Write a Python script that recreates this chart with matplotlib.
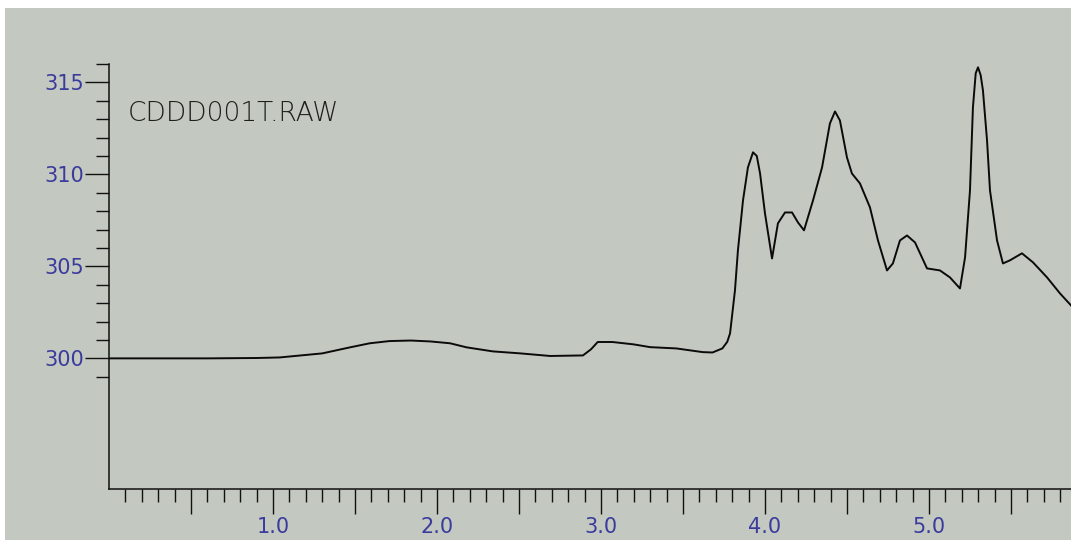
import numpy as np
import matplotlib
matplotlib.use("Agg")
import matplotlib.pyplot as plt
from matplotlib.ticker import FixedLocator, FuncFormatter
from matplotlib.patches import Rectangle

# trace (retention time, signal)
time = [0.00, 0.30, 0.60, 0.90, 1.04, 1.30, 1.47, 1.59, 1.71, 1.84, 1.96, 2.08,
        2.18, 2.34, 2.51, 2.69, 2.89, 2.94, 2.98, 3.07, 3.20, 3.30, 3.46, 3.62,
        3.68, 3.74, 3.77, 3.787, 3.817, 3.835, 3.866, 3.896, 3.927, 3.950, 3.970,
        4.000, 4.043, 4.079, 4.122, 4.165, 4.201, 4.238, 4.293, 4.348, 4.396,
        4.427, 4.457, 4.500, 4.530, 4.579, 4.640, 4.689, 4.744, 4.780, 4.823,
        4.866, 4.915, 4.988, 5.067, 5.128, 5.189, 5.220, 5.250, 5.268, 5.285,
        5.299, 5.315, 5.329, 5.354, 5.372, 5.415, 5.451, 5.494, 5.567, 5.634,
        5.720, 5.799, 5.866]
signal = [300.00, 300.00, 300.00, 300.02, 300.05, 300.27, 300.60, 300.82, 300.94,
          300.97, 300.92, 300.82, 300.60, 300.38, 300.27, 300.13, 300.16, 300.50,
          300.89, 300.89, 300.76, 300.61, 300.54, 300.34, 300.32, 300.54, 300.90,
          301.36, 303.70, 305.87, 308.59, 310.38, 311.20, 311.00, 310.05, 307.88,
          305.43, 307.34, 307.93, 307.93, 307.39, 306.96, 308.59, 310.38, 312.77,
          313.42, 312.93, 310.92, 310.05, 309.51, 308.21, 306.41, 304.78, 305.16,
          306.41, 306.68, 306.30, 304.89, 304.78, 304.40, 303.80, 305.49, 309.13,
          313.64, 315.50, 315.82, 315.40, 314.57, 311.85, 309.13, 306.41, 305.16,
          305.33, 305.71, 305.22, 304.40, 303.53, 302.88]

x_labels = [1.0, 2.0, 3.0, 4.0, 5.0]
y_labels = [300, 305, 310, 315]

BG = "#c3c8c0"
BLUE = "#3b3b9e"

fig = plt.figure(figsize=(10.71, 5.40), dpi=100, facecolor="white")
fig.patches.append(Rectangle((5 / 1071, 0), 1, 1 - 8 / 540, transform=fig.transFigure,
                             facecolor=BG, edgecolor="none", zorder=-10))
ax = fig.add_axes([109 / 1071, 51 / 540, 1 - 109 / 1071, 425 / 540])
ax.set_facecolor("none")

ax.plot(time, signal, color="#0a0a0a", linewidth=1.4)

ax.set_xlim(0, 5.866)
ax.set_ylim(292.9, 316.0)

for s in ("top", "right"):
    ax.spines[s].set_visible(False)
for s in ("left", "bottom"):
    ax.spines[s].set_linewidth(1.1)
    ax.spines[s].set_color("#111111")

# x: long ticks every 0.5, short every 0.1, labels on whole numbers
xmaj = np.arange(0.5, 5.6, 0.5)
xmin = [v for v in np.arange(0.1, 5.86, 0.1) if abs(v * 2 - round(v * 2)) > 1e-6]
ax.xaxis.set_major_locator(FixedLocator(xmaj))
ax.xaxis.set_minor_locator(FixedLocator(xmin))
ax.xaxis.set_major_formatter(FuncFormatter(
    lambda v, p: f"{v:.1f}" if any(abs(v - l) < 1e-6 for l in x_labels) else ""))
ax.tick_params(axis="x", which="major", length=18, width=1.0, color="#111111",
               labelsize=15, labelcolor=BLUE, pad=2)
ax.tick_params(axis="x", which="minor", length=9.5, width=1.0, color="#111111")

# y: labelled every 5, short every 1 from 299 to 316
ymin = [v for v in range(299, 317) if v not in y_labels]
ax.yaxis.set_major_locator(FixedLocator(y_labels))
ax.yaxis.set_minor_locator(FixedLocator(ymin))
ax.yaxis.set_major_formatter(FuncFormatter(lambda v, p: f"{int(v)}"))
ax.tick_params(axis="y", which="major", length=17, width=1.0, color="#111111",
               labelsize=15, labelcolor=BLUE, pad=1)
ax.tick_params(axis="y", which="minor", length=9.5, width=1.0, color="#111111")

ax.text(0.116, 313.3, "CDDD001T.RAW", fontsize=19, color="#1e1e1e",
        ha="left", va="center", fontweight="light")

fig.savefig("out.png", dpi=100, facecolor=fig.get_facecolor())
